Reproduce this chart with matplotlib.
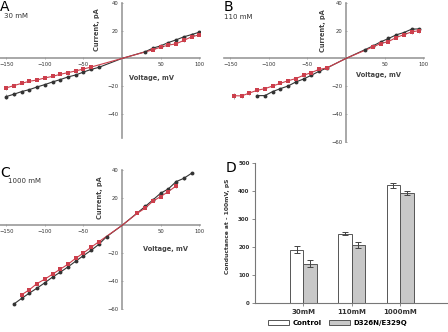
import numpy as np
import matplotlib.pyplot as plt

# panel A, 30 mM
a_v_ctl = [-150, -140, -130, -120, -110, -100, -90, -80, -70, -60, -50, -40, -30, 0, 30, 40, 50, 60, 70, 80, 90, 100]
a_i_ctl = [-27.4, -25.7, -23.8, -22.4, -20.5, -18.8, -16.9, -15.2, -13.3, -11.9, -9.8, -7.9, -6.4, 0, 4.8, 7.4, 9.0, 11.4, 13.3, 15.5, 17.1, 18.8]
a_e_ctl = [1.6, 1.2, 1.0, 0.8, 0.7, 0.7, 0.6, 0.6, 0.6, 0.5, 0.5, 0.5, 0.5, 0, 0.5, 0.6, 0.6, 0.7, 0.7, 0.8, 0.8, 0.9]
a_v_mut = [-150, -140, -130, -120, -110, -100, -90, -80, -70, -60, -50, -40, 0, 40, 50, 60, 70, 80, 90, 100]
a_i_mut = [-21.2, -19.5, -17.9, -16.4, -15.5, -14.0, -12.9, -11.4, -10.2, -9.0, -7.6, -6.2, 0, 6.2, 8.1, 9.5, 10.5, 12.9, 15.5, 16.9]
a_e_mut = [1.2, 1.0, 0.8, 0.7, 0.7, 0.6, 0.6, 0.5, 0.5, 0.5, 0.5, 0.5, 0, 0.6, 0.6, 0.7, 0.8, 0.9, 0.9, 1.0]

# panel B, 110 mM
b_v_ctl = [-115, -105, -95, -85, -75, -65, -55, -45, -35, -25, 0, 25, 35, 45, 55, 65, 75, 85, 95]
b_i_ctl = [-26.7, -26.7, -23.8, -21.7, -19.8, -16.9, -14.8, -12.1, -9.3, -6.9, 0, 6.4, 9.0, 11.9, 14.3, 16.9, 18.6, 21.0, 21.2]
b_e_ctl = [0.8, 0.8, 0.7, 0.6, 0.6, 0.6, 0.5, 0.5, 0.5, 0.5, 0, 0.5, 0.6, 0.6, 0.7, 0.7, 0.8, 0.8, 0.9]
b_v_mut = [-145, -135, -125, -115, -105, -95, -85, -75, -65, -55, -45, -35, -25, 0, 35, 45, 55, 65, 75, 85, 95]
b_i_mut = [-26.8, -26.9, -24.8, -22.9, -21.7, -19.8, -17.9, -16.0, -14.5, -12.1, -10.2, -7.9, -6.9, 0, 8.3, 10.7, 12.1, 15.0, 17.1, 19.0, 20.0]
b_e_mut = [2.2, 1.4, 1.4, 1.2, 1.0, 0.9, 0.8, 0.8, 0.7, 0.7, 0.7, 0.6, 0.6, 0, 0.7, 0.8, 0.8, 0.9, 1.0, 1.2, 1.4]

# panel C, 1000 mM
c_v_ctl = [-140, -130, -120, -110, -100, -90, -80, -70, -60, -50, -40, -30, -20, 0, 30, 40, 50, 60, 70, 80, 90]
c_i_ctl = [-56.4, -52.4, -48.6, -45.0, -41.2, -37.1, -33.6, -29.8, -25.7, -21.7, -17.9, -13.6, -8.1, 0, 13.6, 18.3, 23.1, 26.2, 31.4, 33.8, 37.4]
c_e_ctl = [0.8, 0.9, 0.8, 0.8, 0.8, 0.8, 0.7, 0.7, 0.7, 0.7, 0.6, 0.6, 0.5, 0, 0.7, 0.8, 0.9, 1.0, 1.2, 0.9, 0.8]
c_v_mut = [-130, -120, -110, -100, -90, -80, -70, -60, -50, -40, -30, 0, 20, 30, 40, 50, 60, 70]
c_i_mut = [-49.8, -46.2, -41.7, -38.6, -35.0, -31.4, -27.9, -23.6, -19.8, -15.7, -11.7, 0, 8.8, 12.4, 17.4, 20.7, 24.3, 28.3]
c_e_mut = [1.4, 1.0, 1.0, 0.9, 0.9, 0.8, 0.8, 0.7, 0.7, 0.6, 0.6, 0, 0.6, 0.7, 0.8, 0.9, 1.0, 1.4]

# panel D
groups = ['30mM', '110mM', '1000mM']
g_ctl = [190, 248, 420]
g_ctl_err = [13, 6, 10]
g_mut = [140, 208, 392]
g_mut_err = [13, 10, 8]

W, H = 448, 332
fig = plt.figure(figsize=(W / 100, H / 100), dpi=100)

def ax_px(x0, y0, x1, y1):
    return fig.add_axes([x0 / W, 1 - y1 / H, (x1 - x0) / W, (y1 - y0) / H])

def txt_px(x, y, s, **kw):
    fig.text(x / W, 1 - y / H, s, **kw)

RED = '#cc3f4c'
BLK = '#333333'
AXC = '#9a9a9a'

def iv_panel(ax, ctl, mut, ybottom, ylabs, xlab_pos, ylab_pos):
    for (v, i, e), col, mk in [(ctl, BLK, 'o'), (mut, RED, 's')]:
        ax.plot(v, i, '-', color=col, lw=0.8, zorder=3)
        v2 = [a for a in v if a != 0]
        i2 = [b for a, b in zip(v, i) if a != 0]
        e2 = [c for a, c in zip(v, e) if a != 0]
        ax.errorbar(v2, i2, yerr=e2, fmt=mk, color=col, ms=2.8, mew=0,
                    elinewidth=0.6, ecolor='#999999', capsize=1.2, capthick=0.6, zorder=4)
    ax.set_xlim(-158, 101)
    ax.set_ylim(-60, 40.5)
    for s in ['top', 'right']:
        ax.spines[s].set_visible(False)
    ax.spines['left'].set_position(('data', 0))
    ax.spines['bottom'].set_position(('data', 0))
    ax.spines['left'].set_bounds(ybottom, 40)
    for s in ['left', 'bottom']:
        ax.spines[s].set_color(AXC)
        ax.spines[s].set_linewidth(1.2)
    ax.set_xticks([-150, -100, -50, 50, 100])
    ax.set_yticks(ylabs)
    ax.tick_params(colors=AXC, labelcolor='#333333', labelsize=3.8, length=2, width=0.6,
                   direction='inout', pad=1.5)
    ax.patch.set_alpha(0)
    ax.text(xlab_pos[0], xlab_pos[1], 'Voltage, mV', fontsize=4.8, fontweight='bold',
            color='#444444', ha='center', va='center')
    ax.text(ylab_pos[0], ylab_pos[1], 'Current, pA', fontsize=4.8, fontweight='bold',
            color='#444444', ha='center', va='center', rotation=90)

axA = ax_px(0, 2, 200, 142)
iv_panel(axA, (a_v_ctl, a_i_ctl, a_e_ctl), (a_v_mut, a_i_mut, a_e_mut), -57,
         [-40, -20, 20, 40], (38, -14), (-32, 21))
axB = ax_px(224, 2, 424, 142)
iv_panel(axB, (b_v_ctl, b_i_ctl, b_e_ctl), (b_v_mut, b_i_mut, b_e_mut), -60,
         [-60, -40, -20, 20, 40], (42, -12), (-30, 20))
axC = ax_px(0, 169, 200, 309)
iv_panel(axC, (c_v_ctl, c_i_ctl, c_e_ctl), (c_v_mut, c_i_mut, c_e_mut), -60,
         [-60, -40, -20, 20, 40], (56, -17), (-29, 20))

txt_px(0, 0, 'A', fontsize=10, ha='left', va='top')
txt_px(224, 0, 'B', fontsize=10, ha='left', va='top')
txt_px(0, 166, 'C', fontsize=10, ha='left', va='top')
txt_px(226, 161, 'D', fontsize=10, ha='left', va='top')
txt_px(4, 16, '30 mM', fontsize=5, color='#333333', ha='left', va='center')
txt_px(224, 17, '110 mM', fontsize=5, color='#333333', ha='left', va='center')
txt_px(8, 181, '1000 mM', fontsize=5, color='#333333', ha='left', va='center')

# panel D
axD = ax_px(255, 163, 447, 303)
x = np.arange(1, len(groups) + 1)
bw = 0.28
ekw = dict(elinewidth=0.7, ecolor='#444444', capsize=2, capthick=0.7)
axD.bar(x - bw / 2, g_ctl, bw, yerr=g_ctl_err, color='white', edgecolor='#555555', lw=0.7,
        error_kw=ekw, label='Control')
axD.bar(x + bw / 2, g_mut, bw, yerr=g_mut_err, color='#c8c8c8', edgecolor='#555555', lw=0.7,
        error_kw=ekw, label='D326N/E329Q')
axD.set_xlim(0, 3.97)
axD.set_ylim(0, 500)
axD.set_yticks([0, 100, 200, 300, 400, 500])
axD.set_xticks(x)
axD.set_xticklabels(groups, fontweight='bold')
for s in ['top', 'right']:
    axD.spines[s].set_visible(False)
for s in ['left', 'bottom']:
    axD.spines[s].set_color('#777777')
    axD.spines[s].set_linewidth(0.8)
axD.tick_params(axis='x', labelsize=5, length=2, width=0.6, colors='#777777', labelcolor='#333333', pad=2)
axD.tick_params(axis='y', labelsize=4, length=2, width=0.6, colors='#777777', labelcolor='#333333', pad=2)
for t in axD.get_yticklabels():
    t.set_fontweight('bold')
axD.set_ylabel('Conductance at - 100mV, pS', fontsize=4.3, fontweight='bold', color='#333333')
axD.yaxis.set_label_coords(-0.13, 0.55)
axD.legend(loc='upper center', bbox_to_anchor=(0.43, -0.075), ncol=2, frameon=False,
           prop={'weight': 'bold', 'size': 5}, handlelength=3.0, handleheight=0.7,
           columnspacing=1.0, handletextpad=0.5)

fig.savefig('out.png', dpi=100)
